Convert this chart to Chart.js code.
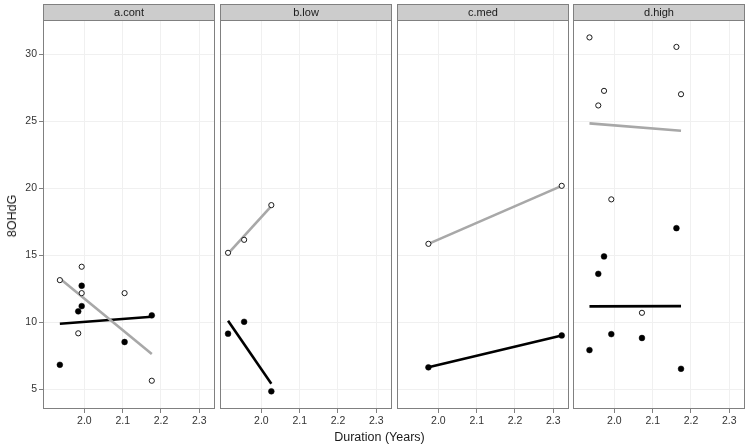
<!DOCTYPE html>
<html>
<head>
<meta charset="utf-8">
<script src="https://cdn.jsdelivr.net/npm/chart.js@4.4.1/dist/chart.umd.min.js"></script>
<style>
  body { margin: 0; background: #fff; }
  #wrap { position: relative; width: 750px; height: 448px; overflow: hidden; }
  #wrap canvas { position: absolute; left: 0; top: 0; }
  .axis-title { position: absolute; font-family: 'Liberation Sans', Arial, sans-serif; font-size: 12.5px; color: #1a1a1a; white-space: nowrap; }
  #xTitle { left: 379.5px; top: 437px; transform: translate(-50%, -50%); }
  #yTitle { left: 12px; top: 216px; transform: translate(-50%, -50%) rotate(-90deg); }
</style>
</head>
<body>
<div id="wrap">
  <canvas id="panelA" width="750" height="448"></canvas>
  <canvas id="panelB" width="750" height="448"></canvas>
  <canvas id="panelC" width="750" height="448"></canvas>
  <canvas id="panelD" width="750" height="448"></canvas>
  <div class="axis-title" id="xTitle">Duration (Years)</div>
  <div class="axis-title" id="yTitle">8OHdG</div>
</div>
<script>
// Facet labels and shared axis ticks
const facetLabels = ['a.cont', 'b.low', 'c.med', 'd.high'];
const xTicks = [2.0, 2.1, 2.2, 2.3];
const yTicks = [5, 10, 15, 20, 25, 30];

// a.cont
const contOpenX = [1.936, 1.993, 1.993, 1.984, 2.105, 2.176];
const contOpenY = [13.13, 14.13, 12.16, 9.16, 12.16, 5.62];
const contFilledX = [1.936, 1.993, 1.993, 1.984, 2.105, 2.176];
const contFilledY = [6.81, 12.71, 11.19, 10.8, 8.51, 10.5];
const contGreyX = [1.936, 2.176];
const contGreyY = [13.26, 7.61];
const contBlackX = [1.936, 2.176];
const contBlackY = [9.88, 10.4];

// b.low
const lowOpenX = [1.913, 1.955, 2.026];
const lowOpenY = [15.17, 16.14, 18.73];
const lowFilledX = [1.913, 1.955, 2.026];
const lowFilledY = [9.13, 10.02, 4.83];
const lowGreyX = [1.913, 2.026];
const lowGreyY = [15.1, 18.65];
const lowBlackX = [1.913, 2.026];
const lowBlackY = [10.1, 5.4];

// c.med
const medOpenX = [1.974, 2.322];
const medOpenY = [15.84, 20.17];
const medFilledX = [1.974, 2.322];
const medFilledY = [6.62, 9.0];
const medGreyX = [1.974, 2.322];
const medGreyY = [15.84, 20.17];
const medBlackX = [1.974, 2.322];
const medBlackY = [6.62, 9.0];

// d.high
const highOpenX = [1.935, 2.162, 1.973, 2.174, 1.958, 1.992, 2.072];
const highOpenY = [31.25, 30.54, 27.26, 27.01, 26.17, 19.16, 10.69];
const highFilledX = [2.162, 1.973, 1.958, 1.992, 2.072, 1.935, 2.174];
const highFilledY = [17.01, 14.9, 13.6, 9.1, 8.81, 7.91, 6.51];
const highGreyX = [1.935, 2.174];
const highGreyY = [24.83, 24.28];
const highBlackX = [1.935, 2.174];
const highBlackY = [11.17, 11.19];

const FONT = "'Liberation Sans', Arial, sans-serif";

// pair up x and y arrays into chart points
function pts(xs, ys) {
    return xs.map((x, i) => ({ x: x, y: ys[i] }));
}

// ggplot-like strip on top and grey border round the panel
const facetPlugin = {
    id: 'facet',
    afterDraw(chart, args, opts) {
        const { ctx, chartArea } = chart;
        const l = Math.round(chartArea.left), r = Math.round(chartArea.right);
        const t = Math.round(chartArea.top), b = Math.round(chartArea.bottom);
        ctx.save();
        ctx.strokeStyle = '#808080';
        ctx.lineWidth = 1;
        ctx.strokeRect(l + 0.5, t + 0.5, r - l - 1, b - t - 1);
        // strip
        ctx.fillStyle = '#cccccc';
        ctx.fillRect(l, 4, r - l, t - 4);
        ctx.strokeRect(l + 0.5, 4.5, r - l - 1, t - 4);
        ctx.fillStyle = '#1a1a1a';
        ctx.font = '11px ' + FONT;
        ctx.textAlign = 'center';
        ctx.textBaseline = 'middle';
        ctx.fillText(opts.label, (l + r) / 2, (4 + t) / 2 + 0.5);
        ctx.restore();
    }
};

function makePanel(canvasId, label, left, right, showY, openPts, filledPts, greyPts, blackPts) {
    const yWidth = showY ? 30 : 0;
    const xHeight = 24;
    new Chart(document.getElementById(canvasId), {
        type: 'scatter',
        data: {
            datasets: [
                {
                    data: openPts,
                    pointRadius: 2.6,
                    pointBackgroundColor: '#ffffff',
                    pointBorderColor: '#1a1a1a',
                    pointBorderWidth: 1,
                    order: 0
                },
                {
                    data: filledPts,
                    pointRadius: 2.9,
                    pointBackgroundColor: '#000000',
                    pointBorderColor: '#000000',
                    pointBorderWidth: 0.5,
                    order: 1
                },
                {
                    data: greyPts,
                    showLine: true,
                    pointRadius: 0,
                    borderColor: '#a8a8a8',
                    borderWidth: 2.6,
                    order: 2
                },
                {
                    data: blackPts,
                    showLine: true,
                    pointRadius: 0,
                    borderColor: '#000000',
                    borderWidth: 2.6,
                    order: 3
                }
            ]
        },
        options: {
            responsive: false,
            animation: false,
            events: [],
            layout: {
                padding: { left: left - yWidth, right: 750 - right, top: 20, bottom: 448 - 409 - xHeight }
            },
            plugins: {
                legend: { display: false },
                tooltip: { enabled: false },
                facet: { label: label }
            },
            scales: {
                x: {
                    type: 'linear',
                    min: 1.892,
                    max: 2.341,
                    afterBuildTicks: s => { s.ticks = xTicks.map(v => ({ value: v })); },
                    afterFit: s => { s.height = xHeight; },
                    border: { display: false },
                    grid: { color: '#f0f0f0', tickColor: '#808080', tickLength: 4 },
                    ticks: {
                        color: '#333333',
                        font: { family: FONT, size: 10.5 },
                        padding: 2,
                        maxRotation: 0,
                        callback: v => v.toFixed(1)
                    }
                },
                y: {
                    type: 'linear',
                    min: 3.51,
                    max: 32.55,
                    afterBuildTicks: s => { s.ticks = yTicks.map(v => ({ value: v })); },
                    afterFit: s => { s.width = yWidth; },
                    border: { display: false },
                    grid: { color: '#f0f0f0', tickColor: '#808080', tickLength: 4, drawTicks: showY },
                    ticks: {
                        display: showY,
                        color: '#333333',
                        font: { family: FONT, size: 10.5 },
                        padding: 2
                    }
                }
            }
        },
        plugins: [facetPlugin]
    });
}

makePanel('panelA', facetLabels[0], 43, 215, true,
    pts(contOpenX, contOpenY), pts(contFilledX, contFilledY), pts(contGreyX, contGreyY), pts(contBlackX, contBlackY));
makePanel('panelB', facetLabels[1], 220, 392, false,
    pts(lowOpenX, lowOpenY), pts(lowFilledX, lowFilledY), pts(lowGreyX, lowGreyY), pts(lowBlackX, lowBlackY));
makePanel('panelC', facetLabels[2], 397, 569, false,
    pts(medOpenX, medOpenY), pts(medFilledX, medFilledY), pts(medGreyX, medGreyY), pts(medBlackX, medBlackY));
makePanel('panelD', facetLabels[3], 573, 746, false,
    pts(highOpenX, highOpenY), pts(highFilledX, highFilledY), pts(highGreyX, highGreyY), pts(highBlackX, highBlackY));
</script>
</body>
</html>
